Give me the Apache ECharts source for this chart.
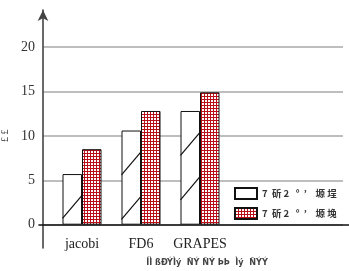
<!DOCTYPE html>
<html><head><meta charset="utf-8">
<script src="https://cdn.jsdelivr.net/npm/echarts@6/dist/echarts.min.js"></script>
<style>html,body{margin:0;padding:0;background:#fff}#c{width:349px;height:271px}</style>
</head><body><div id="c"></div>
<script>
// ---- data ----
const categories = ['jacobi', 'FD6', 'GRAPES'];
const seriesNames = ['7  斫 2   °  \u02bc    塬 埕', '7  斫 2   °  \u02bc    塬 堍'];
const whiteValues = [5.7, 10.6, 12.8];
const redValues = [8.5, 12.8, 14.9];
const yTicks = [0, 5, 10, 15, 20];
const yAxisName = '£ £';
const xAxisName = 'ÍÌ ßÐÝÌý  ÑÝ ÑÝ ÞÞ  Ìý  ÑÝÝ';

// ---- styling helpers ----
const BAR_W = 19.5;
function gridPattern() {
  const c = document.createElement('canvas');
  c.width = 3; c.height = 3;
  const g = c.getContext('2d');
  g.fillStyle = '#ffffff'; g.fillRect(0, 0, 3, 3);
  g.fillStyle = '#b80f18';
  g.fillRect(0, 0, 3, 1);
  g.fillRect(0, 0, 1, 3);
  return c;
}
const redFill = { image: gridPattern(), repeat: 'repeat' };

const TOP = 47, BOTTOM = 271 - 224.7;
const serif = 'Liberation Serif';
const chart = echarts.init(document.getElementById('c'), null, { renderer: 'canvas' });
const xData = categories.concat(['', '']);
const OB = 'none';

chart.setOption({
  animation: false,
  backgroundColor: '#fff',
  grid: [
    { left: 52.5, width: 295, top: TOP, bottom: BOTTOM, outerBoundsMode: OB, containLabel: false },   // bars
    { left: 43, width: 300, top: TOP, bottom: BOTTOM, outerBoundsMode: OB, containLabel: false },     // gridlines + labels
    { left: 43, width: 300, top: 10, bottom: 23, outerBoundsMode: OB, containLabel: false },          // y axis line with arrow
    { left: 39, right: 0, top: TOP, bottom: BOTTOM, outerBoundsMode: OB, containLabel: false }        // x axis line
  ],
  xAxis: [
    { gridIndex: 0, type: 'category', data: xData,
      axisLine: { show: false }, axisTick: { show: false }, splitLine: { show: false },
      axisLabel: { interval: 0, margin: 13, fontFamily: serif, fontSize: 14, color: '#222' },
      name: xAxisName, nameLocation: 'middle', nameGap: 33,
      nameTextStyle: { fontFamily: 'DejaVu Sans Condensed', fontSize: 9, fontWeight: 'bold', color: '#444',
        padding: [0, 0, 0, 14] } },
    { gridIndex: 1, type: 'value', show: false },
    { gridIndex: 2, type: 'value', show: false },
    { gridIndex: 3, type: 'value', min: 0, max: 1,
      axisLine: { show: true, lineStyle: { color: '#111', width: 1.6 } },
      axisTick: { show: false }, axisLabel: { show: false }, splitLine: { show: false } }
  ],
  yAxis: [
    { gridIndex: 0, type: 'value', min: 0, max: 20, show: false },
    { gridIndex: 1, type: 'value', min: 0, max: 20, interval: 5,
      axisLine: { show: false }, axisTick: { show: false },
      axisLabel: { margin: 8, fontFamily: serif, fontSize: 14, color: '#333',
        formatter: v => (yTicks.indexOf(v) >= 0 ? String(v) : '') },
      splitLine: { show: true, lineStyle: { color: '#a8a8a8', width: 1.5 } },
      name: yAxisName, nameLocation: 'middle', nameGap: 33, nameRotate: 90,
      nameTextStyle: { fontFamily: serif, fontSize: 10, color: '#444' } },
    { gridIndex: 2, type: 'value', min: 0, max: 1,
      axisLine: { show: true, symbol: ['none', 'arrow'], symbolSize: [8, 11],
        lineStyle: { color: '#444', width: 1.6 } },
      axisTick: { show: false }, axisLabel: { show: false }, splitLine: { show: false } },
    { gridIndex: 3, type: 'value', show: false }
  ],
  legend: {
    data: seriesNames, orient: 'vertical', left: 234, top: 187, padding: 0,
    itemWidth: 22, itemHeight: 11, itemGap: 7, icon: 'rect',
    textStyle: { fontFamily: 'Noto Sans CJK SC', fontSize: 9.5, lineHeight: 11, color: '#333', fontWeight: 'bold' }
  },
  series: [
    { name: seriesNames[0], type: 'bar', xAxisIndex: 0, yAxisIndex: 0,
      data: whiteValues, barWidth: BAR_W, barGap: '0%',
      itemStyle: { color: '#ffffff', borderColor: '#111', borderWidth: 1 } },
    { name: seriesNames[1], type: 'bar', xAxisIndex: 0, yAxisIndex: 0,
      data: redValues, barWidth: BAR_W, barGap: '0%',
      itemStyle: { color: redFill, borderColor: '#111', borderWidth: 1 } },
    { type: 'custom', xAxisIndex: 0, yAxisIndex: 0, z: 5, silent: true,
      data: whiteValues.map((v, i) => [i, v]),
      renderItem: function (params, api) {
        const idx = api.value(0), val = api.value(1);
        const topPt = api.coord([idx, val]);
        const bottom = api.coord([idx, 0])[1];
        const period = api.size([0, 5])[1];
        const left = topPt[0] - BAR_W;
        const rise = period * 0.52;
        const children = [];
        for (let y = topPt[1] + period; y <= bottom + 0.5; y += period) {
          children.push({ type: 'line',
            shape: { x1: left, y1: y, x2: left + BAR_W, y2: y - rise },
            style: { stroke: '#111', lineWidth: 1.2 } });
        }
        return { type: 'group', children: children };
      } }
  ]
});
</script></body></html>
